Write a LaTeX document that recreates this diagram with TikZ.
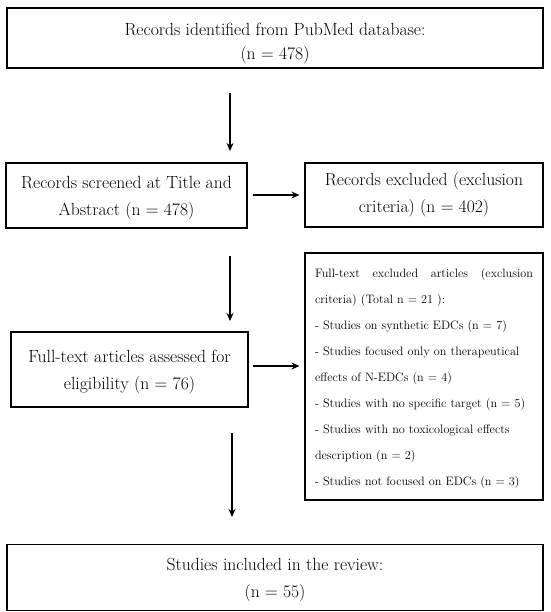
\documentclass[tikz,border=0pt]{standalone}
\usetikzlibrary{arrows.meta}

\begin{document}
\begin{tikzpicture}[x=1pt, y=-1pt,
        box/.style={draw, line width=1.1pt, inner sep=0pt},
        txt/.style={align=center, inner sep=0pt, font=\fontsize{17.6}{27}\selectfont},
        arr/.style={line width=1.1pt, -{Stealth[length=8pt, width=7pt]}}]
            \useasboundingbox (0,0) rectangle (550,612);

            % boxes
            \node[box, minimum width=536pt, minimum height=60pt] (ident) at (275,38) {};
            \node[box, minimum width=241pt, minimum height=65pt] (screen) at (126.5,195.5) {};
            \node[box, minimum width=238pt, minimum height=64pt] (excl) at (424,195) {};
            \node[box, minimum width=237pt, minimum height=75pt] (full) at (129.5,369.5) {};
            \node[box, minimum width=238pt, minimum height=247pt] (ftexcl) at (424,376.5) {};
            \node[box, minimum width=536pt, minimum height=66pt] (incl) at (275,577.5) {};

            % texts
            \node[txt, font=\fontsize{17.6}{24}\selectfont] (identtxt) at (275,43.5)
                {Records identified from PubMed database:\\(n = 478)};
            \node[txt] (screentxt) at (126.5,198.5)
                {Records screened at Title and\\Abstract (n = 478)};
            \node[txt] (excltxt) at (424,195)
                {Records excluded (exclusion\\criteria) (n = 402)};
            \node[txt] (fulltxt) at (129.5,372.5)
                {Full-text articles assessed for\\eligibility (n = 76)};
            \node[txt, text width=218pt, align=left, font=\fontsize{12.2}{26}\selectfont] (ftexcltxt) at (424,378)
                {Full-text\hfill excluded\hfill articles\hfill (exclusion\\
                criteria) (Total n = 21 ):\\
                - Studies on synthetic EDCs (n = 7)\\
                - Studies focused only on therapeutical\\
                effects of N-EDCs (n = 4)\\
                - Studies with no specific target (n~=~5)\\
                - Studies with no toxicological effects\\
                description (n = 2)\\
                - Studies not focused on EDCs (n = 3)};
            \node[txt] (incltxt) at (275,580.5)
                {Studies included in the review:\\(n = 55)};

            \coordinate (a1s) at (230,93);
            \coordinate (a1e) at (230,151);
            \coordinate (a3s) at (230,256);
            \coordinate (a3e) at (230,321);
            \coordinate (a5s) at (232,433);
            \coordinate (a5e) at (232,517);

            % arrows
            \draw[arr] (a1s) -- (a1e);
            \draw[arr] (a3s) -- (a3e);
            \draw[arr] (a5s) -- (a5e);
            \draw[arr, shorten <=5pt, shorten >=5pt] ([yshift=0.5pt]screen.east) -- ([yshift=0.5pt]screen.east -| excl.west);
            \draw[arr, shorten <=4pt, shorten >=5pt] ([yshift=3.5pt]full.east) -- ([yshift=3.5pt]full.east -| ftexcl.west);
        \end{tikzpicture}
\end{document}
